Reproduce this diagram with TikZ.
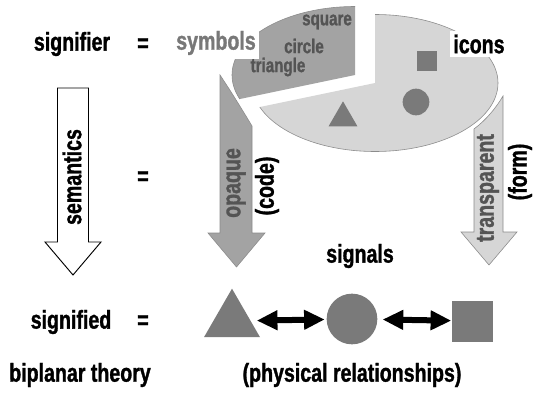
\documentclass[tikz,border=0pt]{standalone}
\usepackage{fontspec}
\setmainfont{Liberation Sans}[FakeStretch=0.76, BoldFeatures={FakeBold=1.2}]
\usepackage{tikz}
\usetikzlibrary{arrows.meta,positioning,shapes.geometric}
\definecolor{signgray}{RGB}{122,122,122}
\definecolor{symbolfill}{RGB}{163,163,163}
\definecolor{iconfill}{RGB}{214,214,214}
\definecolor{edgegray}{RGB}{140,140,140}
\definecolor{labelgray}{RGB}{84,84,84}
\definecolor{symbolsgray}{RGB}{120,120,120}

\begin{document}
\begin{tikzpicture}[
  x=0.03cm, y=-0.03cm,
  word/.style={font=\fontsize{22}{24}\selectfont\bfseries, inner sep=1pt},
  smallword/.style={font=\fontsize{17}{19}\selectfont\bfseries, text=labelgray, inner sep=0pt},
  sign/.style={fill=signgray, draw=none, inner sep=0pt},
  bigarrow/.style={line width=0.5pt, line join=miter},
  link/.style={{Triangle[length=0.62cm,width=0.56cm]}-{Triangle[length=0.62cm,width=0.56cm]}, line width=0.18cm}
]
\useasboundingbox (0,0) rectangle (534,395);

\draw[bigarrow, fill=white, draw=black, line width=0.8pt] (57.5,88) -- (88.5,88) -- (88.5,242) -- (101,242) -- (73,275) -- (45,242) -- (57.5,242) -- cycle;
\draw[bigarrow, fill=symbolfill, draw=edgegray] (220,75) .. controls (230,90) and (240,106) .. (252,126) -- (252,233) -- (265,233) -- (236.5,267) -- (208,233) -- (220,233) -- cycle;
\draw[bigarrow, fill=iconfill, draw=edgegray] (474,129) .. controls (486,120) and (496,108) .. (503,96) -- (503,232) -- (517,232) -- (489,265) -- (461,232) -- (474,232) -- cycle;

\begin{scope}
  \clip (375,83) -- (375,-10) -- (545,-10) -- (545,200) -- (200,200) -- (200,119.5) -- cycle;
  \draw[fill=iconfill, draw=edgegray, line width=0.5pt] (375,83) ellipse [x radius=123, y radius=68.5];
\end{scope}
\begin{scope}[shift={(-20,-8)}]
  \clip (375,83) -- (375,-10) -- (200,-10) -- (200,119.5) -- cycle;
  \draw[fill=symbolfill, draw=edgegray, line width=0.5pt] (375,83) ellipse [x radius=123, y radius=68.5];
\end{scope}

\node[sign, minimum size=0.6cm] (isq) at (427,61) {};
\node[sign, circle, minimum size=0.8cm] (icirc) at (416,102) {};
\node[sign, regular polygon, regular polygon sides=3, minimum size=1cm] (itri) at (343,118) {};

\node[smallword] (sqword) at (327,22) {square};
\node[smallword] (ciword) at (304,46) {circle};
\node[smallword] (trword) at (278,67) {triangle};

\node[word] (signifier) at (72,44) {signifier};
\node[word] (eqtop) at (143,45) {=};
\node[word, fill=white, text=symbolsgray, inner sep=3pt] (symbols) at (216,43) {symbols};
\node[word, fill=white, inner sep=3pt] (icons) at (479,44) {icons};

\node[word, rotate=90] (semantics) at (72,177) {semantics};
\node[word] (eqmid) at (143,178) {=};
\node[word, rotate=90, text=labelgray] (opaque) at (236,183) {opaque};
\node[word, rotate=90] (code) at (267,186) {(code)};
\node[word, rotate=90, text=labelgray] (transparent) at (488,188) {transparent};
\node[word, rotate=90] (form) at (520,172) {(form)};
\node[word] (signals) at (360,256) {signals};

\node[word] (signified) at (71,322) {signified};
\node[word] (eqbot) at (143,322) {=};
\node[sign, regular polygon, regular polygon sides=3, minimum size=1.94cm] (tri) at (232,321) {};
\node[sign, circle, minimum size=1.52cm] (circ) at (352,319) {};
\node[sign, minimum size=1.23cm] (sq) at (472,321) {};
\draw[link, shorten <=0.18cm, shorten >=0.05cm] (tri) -- (circ);
\draw[link, shorten <=0.15cm] (circ) -- (sq);

\node[word] (biplanar) at (80,375) {biplanar theory};
\node[word] (physical) at (352,375) {(physical relationships)};
\end{tikzpicture}
\end{document}
